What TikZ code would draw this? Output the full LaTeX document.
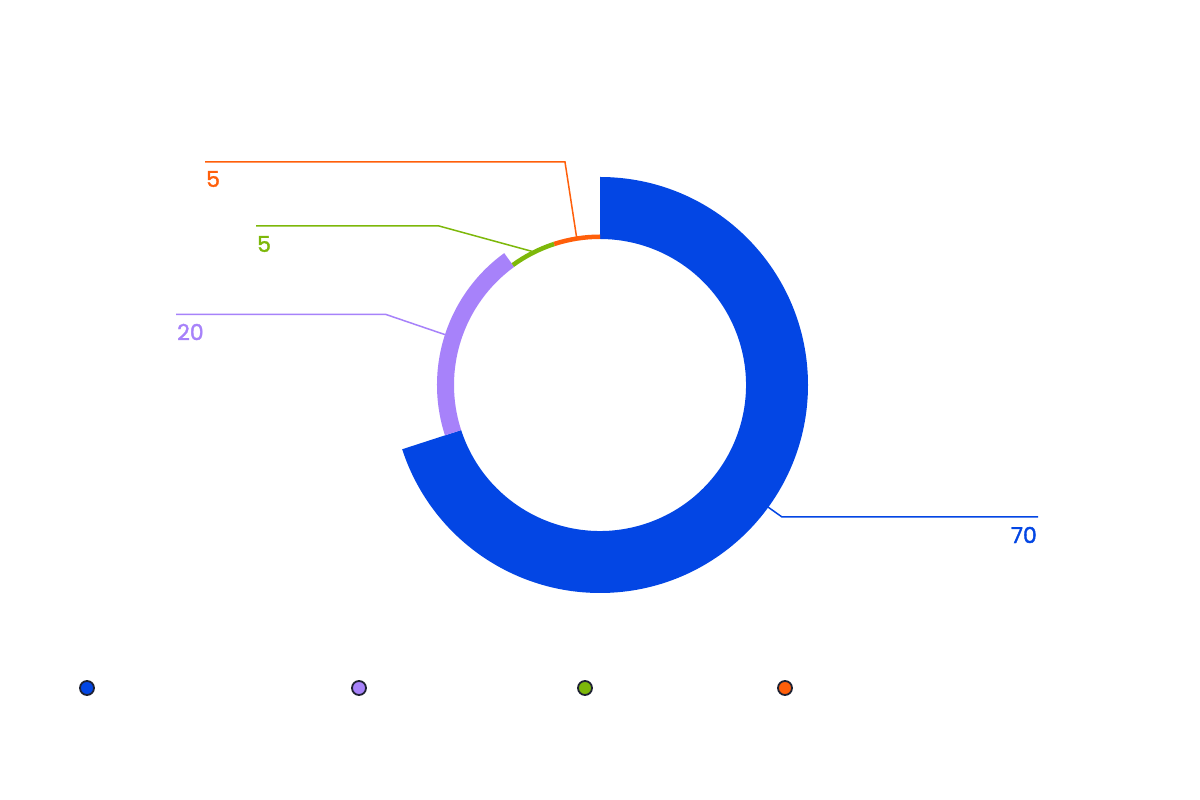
\documentclass[tikz,border=0pt]{standalone}
\usepackage{fontspec}
\setmainfont{Poppins}
\newfontfamily\labelfont[FakeBold=1.6]{Poppins}
\definecolor{cblue}{HTML}{0346E4}
\definecolor{cpurple}{HTML}{A782FA}
\definecolor{cgreen}{HTML}{7DB80A}
\definecolor{corange}{HTML}{FF5F0A}
\definecolor{cdark}{HTML}{1F2233}
\tikzset{
  leader/.style={line width=1.5pt},
  valuelabel/.style={inner sep=0pt, font=\labelfont\fontsize{22}{26}\selectfont},
  legenddot/.style={circle, draw=cdark, line width=1.8pt, minimum size=14pt, inner sep=0pt},
}
\newcommand{\sector}[5]{% color, start, end, rin, rout
  \fill[#1] (#2:#5) arc[start angle=#2, end angle=#3, radius=#5] -- (#3:#4) arc[start angle=#3, end angle=#2, radius=#4] -- cycle;}
\begin{document}
\begin{tikzpicture}[x=1pt,y=1pt]
\useasboundingbox[fill=white] (0,0) rectangle (1200,800);
\begin{scope}[shift={(600,415)}]
  \sector{cblue}{90}{-162}{146}{208}
  \sector{cpurple}{198}{126}{146}{163}
  \sector{cgreen}{126}{108}{146}{150.5}
  \sector{corange}{108}{90}{146}{150.5}
  \coordinate (pblue) at (-36:207.5);
  \coordinate (ppurple) at (162:163);
  \coordinate (pgreen) at (117:150);
  \coordinate (porange) at (99:150);
\end{scope}
% leader lines
\coordinate (kblue) at (782,283);
\coordinate (eblue) at (1038,283);
\draw[leader, cblue] (pblue) -- (kblue) -- (eblue);
\coordinate (kpurple) at (386,485.5);
\coordinate (epurple) at (176,485.5);
\draw[leader, cpurple] (ppurple) -- (kpurple) -- (epurple);
\coordinate (kgreen) at (439,574);
\coordinate (egreen) at (256,574);
\draw[leader, cgreen] (pgreen) -- (kgreen) -- (egreen);
\coordinate (korange) at (565,638);
\coordinate (eorange) at (205,638);
\draw[leader, corange] (porange) -- (korange) -- (eorange);
% labels
\node[valuelabel, text=cblue, anchor=east] (lblue) at (1037,265) {70};
\node[valuelabel, text=cpurple, anchor=west] (lpurple) at (177,468) {20};
\node[valuelabel, text=cgreen, anchor=west] (lgreen) at (257,556) {5};
\node[valuelabel, text=corange, anchor=west] (lorange) at (206,621) {5};
% legend
\node[legenddot, fill=cblue] (d1) at (87,112) {};
\node[legenddot, fill=cpurple] (d2) at (359,112) {};
\node[legenddot, fill=cgreen] (d3) at (585,112) {};
\node[legenddot, fill=corange] (d4) at (785,112) {};
\end{tikzpicture}
\end{document}
